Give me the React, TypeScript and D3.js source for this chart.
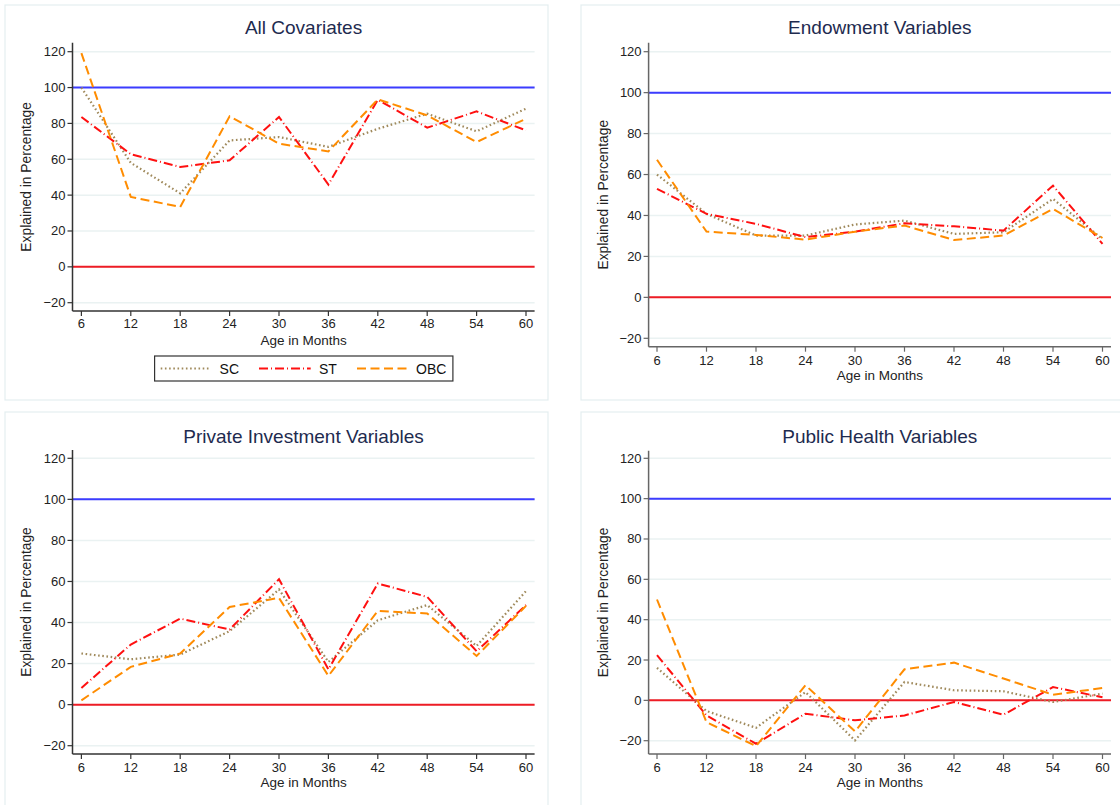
import React from "react";
import * as d3 from "d3";

const ages = [6, 12, 18, 24, 30, 36, 42, 48, 54, 60];
const yTicks = [-20, 0, 20, 40, 60, 80, 100, 120];
const seriesNames = ["SC", "ST", "OBC"];

// All Covariates
const allSC = [100, 58, 41, 70.5, 72.4, 66.9, 77, 85.4, 75.6, 88.2];
const allST = [83.6, 62.8, 55.7, 59.4, 83.6, 45.9, 93.2, 77.6, 86.7, 76.1];
const allOBC = [119.2, 39, 33.4, 84, 68.7, 64.4, 93.4, 84.5, 69.6, 82.6];

// Endowment Variables
const endSC = [60, 40.8, 30.2, 30.2, 35.6, 37.5, 31, 31.8, 48.1, 28.5];
const endST = [53, 40.8, 35.9, 29.4, 32.1, 36.2, 34.7, 32.6, 54.6, 26.1];
const endOBC = [67.2, 32.1, 30.5, 28.2, 32.1, 35.1, 28, 30.2, 43.2, 29];

// Private Investment Variables
const privSC = [24.9, 22.1, 24.4, 35.8, 56.1, 20.8, 41.1, 48.5, 28.6, 55.3];
const privST = [8.1, 29.3, 41.9, 36.6, 61.1, 17.2, 59, 52.5, 26, 48.5];
const privOBC = [2.1, 18.4, 24.9, 47.6, 52, 14, 45.7, 44.4, 23.7, 48.1];

// Public Health Variables
const pubSC = [16.1, -5.3, -13.6, 4.1, -19.9, 9.1, 5, 4.5, -0.8, 3.3];
const pubST = [22.4, -7.5, -21.5, -6.6, -9.9, -7.5, -0.8, -7.1, 6.6, 1.5];
const pubOBC = [50, -10.8, -22.7, 7.5, -15.4, 15.4, 18.7, 10.8, 2.8, 6.1];

const titles = [
  "All Covariates",
  "Endowment Variables",
  "Private Investment Variables",
  "Public Health Variables",
];
const panelData = [
  [allSC, allST, allOBC],
  [endSC, endST, endOBC],
  [privSC, privST, privOBC],
  [pubSC, pubST, pubOBC],
];

const seriesStyle = [
  { color: "#a08a5c", dash: "1.6,2.6", width: 2.2, cap: "butt" },
  { color: "#ff1010", dash: "9,3,1,3", width: 2, cap: "butt" },
  { color: "#ff8c00", dash: "9,4.5", width: 2, cap: "butt" },
];

type Layout = {
  box: [number, number, number, number];
  plotLeft: number;
  plotRight: number;
  x6: number;
  x60: number;
  yM20: number;
  y120: number;
  axisTop: number;
  axisBottom: number;
  titleY: number;
  tickLabelY: number;
  xTitleY: number;
  yTitleX: number;
  axisColor: string;
};

const layouts: Layout[] = [
  { box: [5, 5, 543, 395], plotLeft: 72.5, plotRight: 534.6, x6: 81.4, x60: 526, yM20: 302.7, y120: 51.7, axisTop: 42.7, axisBottom: 311, titleY: 27.7, tickLabelY: 323, xTitleY: 340, yTitleX: 26.8, axisColor: "#333" },
  { box: [581, 5, 560, 395], plotLeft: 648.6, plotRight: 1111, x6: 657, x60: 1102.5, yM20: 338.3, y120: 51.7, axisTop: 42.7, axisBottom: 346.7, titleY: 27.7, tickLabelY: 360, xTitleY: 375.6, yTitleX: 603, axisColor: "#666" },
  { box: [5, 412, 543, 420], plotLeft: 72.5, plotRight: 534.6, x6: 81.4, x60: 526, yM20: 745.7, y120: 458.3, axisTop: 450, axisBottom: 754, titleY: 436, tickLabelY: 767.3, xTitleY: 782.3, yTitleX: 26.8, axisColor: "#333" },
  { box: [581, 412, 560, 420], plotLeft: 648.6, plotRight: 1111, x6: 657, x60: 1102.5, yM20: 740.7, y120: 458.3, axisTop: 450.7, axisBottom: 754, titleY: 436, tickLabelY: 767.3, xTitleY: 782.3, yTitleX: 603, axisColor: "#666" },
];

const FONT = "'Liberation Sans', Arial, Helvetica, sans-serif";

function Panel({ idx }: { idx: number }) {
  const L = layouts[idx];
  const x = d3.scaleLinear().domain([6, 60]).range([L.x6, L.x60]);
  const y = d3.scaleLinear().domain([-20, 120]).range([L.yM20, L.y120]);
  const line = d3
    .line<number>()
    .x((_, i) => x(ages[i]))
    .y((d) => y(d));
  const cx = (L.plotLeft + L.plotRight) / 2;
  const cy = (L.axisTop + L.axisBottom) / 2;
  return (
    <g>
      <rect x={L.box[0]} y={L.box[1]} width={L.box[2]} height={L.box[3]} fill="#ffffff" stroke="#e4eef0" strokeWidth={1.2} />
      <text x={cx} y={L.titleY} textAnchor="middle" dominantBaseline="central" fontSize={19} fill="#1e2b4f" fontFamily={FONT}>
        {titles[idx]}
      </text>
      {yTicks.map((t) => (
        <line key={"g" + t} x1={L.plotLeft} x2={L.plotRight} y1={y(t)} y2={y(t)} stroke="#eaf2f2" strokeWidth={1.5} />
      ))}
      <line x1={L.plotLeft} x2={L.plotRight} y1={y(100)} y2={y(100)} stroke="#3c3cff" strokeWidth={2} />
      <line x1={L.plotLeft} x2={L.plotRight} y1={y(0)} y2={y(0)} stroke="#ee1c25" strokeWidth={2} />
      {panelData[idx].map((vals, si) => (
        <path
          key={si}
          d={line(vals) || ""}
          fill="none"
          stroke={seriesStyle[si].color}
          strokeWidth={seriesStyle[si].width}
          strokeDasharray={seriesStyle[si].dash}
          strokeLinecap={seriesStyle[si].cap as any}
        />
      ))}
      <line x1={L.plotLeft} x2={L.plotLeft} y1={L.axisTop} y2={L.axisBottom} stroke={L.axisColor} strokeWidth={1.5} />
      <line x1={L.plotLeft} x2={L.plotRight} y1={L.axisBottom} y2={L.axisBottom} stroke={L.axisColor} strokeWidth={1.5} />
      {yTicks.map((t) => (
        <g key={"yt" + t}>
          <line x1={L.plotLeft - 5} x2={L.plotLeft} y1={y(t)} y2={y(t)} stroke={L.axisColor} strokeWidth={1.2} />
          <text x={L.plotLeft - 7} y={y(t)} textAnchor="end" dominantBaseline="central" fontSize={13} fill="#222" fontFamily={FONT}>
            {t < 0 ? "\u2212" + Math.abs(t) : String(t)}
          </text>
        </g>
      ))}
      {ages.map((a) => (
        <g key={"xt" + a}>
          <line x1={x(a)} x2={x(a)} y1={L.axisBottom} y2={L.axisBottom + 5} stroke={L.axisColor} strokeWidth={1.2} />
          <text x={x(a)} y={L.tickLabelY} textAnchor="middle" dominantBaseline="central" fontSize={13} fill="#222" fontFamily={FONT}>
            {a}
          </text>
        </g>
      ))}
      <text x={cx} y={L.xTitleY} textAnchor="middle" dominantBaseline="central" fontSize={13.5} fill="#222" fontFamily={FONT}>
        Age in Months
      </text>
      <text
        transform={`translate(${L.yTitleX},${cy}) rotate(-90)`}
        textAnchor="middle"
        dominantBaseline="central"
        fontSize={13.8}
        fill="#222"
        fontFamily={FONT}
      >
        Explained in Percentage
      </text>
    </g>
  );
}

function Legend() {
  const bx = 154.6, by = 356, bw = 298.3, bh = 25;
  const mid = by + bh / 2;
  const items = [
    { x1: 160.7, x2: 210.7, tx: 219.6 },
    { x1: 259, x2: 310.7, tx: 319 },
    { x1: 357, x2: 407, tx: 416 },
  ];
  return (
    <g>
      <rect x={bx} y={by} width={bw} height={bh} fill="#fff" stroke="#333" strokeWidth={1.2} />
      {items.map((it, i) => (
        <g key={i}>
          <line
            x1={it.x1}
            x2={it.x2}
            y1={mid}
            y2={mid}
            stroke={seriesStyle[i].color}
            strokeWidth={seriesStyle[i].width}
            strokeDasharray={seriesStyle[i].dash}
          />
          <text x={it.tx} y={mid} dominantBaseline="central" fontSize={14} fill="#111" fontFamily={FONT}>
            {seriesNames[i]}
          </text>
        </g>
      ))}
    </g>
  );
}

export default function App() {
  return (
    <svg
      width={1120}
      height={805}
      style={{ position: "absolute", left: 0, top: 0, background: "#fff" }}
    >
      <rect x={0} y={0} width={1120} height={805} fill="#ffffff" />
      {[0, 1, 2, 3].map((i) => (
        <Panel key={i} idx={i} />
      ))}
      <Legend />
    </svg>
  );
}
